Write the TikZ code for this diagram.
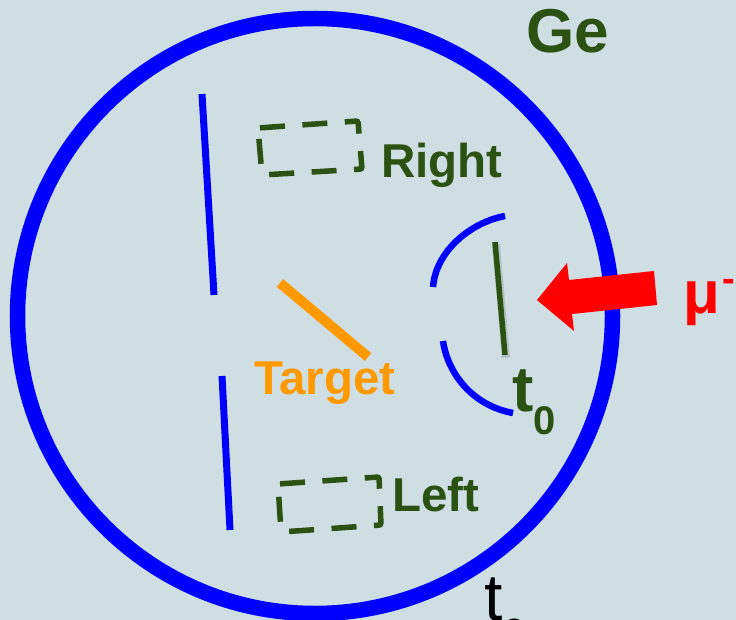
\documentclass[tikz,border=0pt]{standalone}
\usepackage{fontspec}
\setmainfont{Liberation Sans}
\definecolor{bgc}{HTML}{CFDEE2}
\definecolor{dkgreen}{HTML}{2B5212}
\definecolor{trg}{HTML}{FF9900}
\definecolor{ringblue}{HTML}{0000FF}
\definecolor{arrowred}{HTML}{FF0000}
\tikzset{
  blueline/.style={draw=ringblue,line width=7pt},
  thinarc/.style={draw=ringblue,line width=6.5pt},
  dashbox/.style={draw=dkgreen,line width=5.5pt,dash pattern=on 25pt off 17.5pt},
  lbl/.style={anchor=base west,inner sep=0pt,outer sep=0pt,font=\bfseries\fontsize{47.5}{48}\selectfont,text=dkgreen},
}
\begin{document}
\begin{tikzpicture}[x=1pt,y=-1pt]
\useasboundingbox (0,0) rectangle (736,620);
\fill[bgc] (0,0) rectangle (736,620);
\clip (0,0) rectangle (736,620);
% Ge sphere
\draw[ringblue,line width=15.5pt] (315,316) circle[radius=297.5];
% inner blue counters
\draw[blueline] (202,94) -- (214,295);
\draw[blueline] (222,376) -- (230,530);
\draw[thinarc] (505,216) .. controls (472,222) and (436,250) .. (433,287);
\draw[thinarc] (443,341) .. controls (448,375) and (474,406) .. (513,413);
% target
\draw[trg,line width=10pt] (280,283) -- (368,357);
% t0 counter
\draw[black,opacity=.12,line width=8pt] (496,244) -- (506,358);
\draw[dkgreen,line width=5.5pt] (495,242) -- (505,355);
% arrow
\fill[arrowred] (537,300) -- (567,263) -- (569,280) -- (654,271) -- (657,305) -- (572,314) -- (574,331) -- cycle;
% dashed boxes
\draw[dashbox,rounded corners=2pt] (258,128) -- (358,121) -- (362,169) -- (262,175) -- cycle;
\draw[dashbox,rounded corners=2pt] (278,484) -- (379,477) -- (381,525) -- (281,532) -- cycle;
% labels
\node[lbl,font=\bfseries\fontsize{62}{62}\selectfont] (ge) at (526,53) {Ge};
\node[lbl] (right) at (381,178) {Right};
\node[lbl] (left) at (392,511) {Left};
\node[lbl,text=trg] (target) at (254,394) {Target};
\node[lbl,font=\bfseries\fontsize{64}{64}\selectfont] (tzero) at (512,411) {t};
\node[lbl,font=\bfseries\fontsize{40}{40}\selectfont] (zero) at (533,434) {0};
\node[lbl,text=arrowred,font=\bfseries\fontsize{60}{60}\selectfont] (mu) at (683,313) {μ};
\node[lbl,text=arrowred,font=\bfseries\fontsize{38}{38}\selectfont] (minus) at (722,291) {-};
\node[anchor=base west,inner sep=0pt,text=black,font=\fontsize{66}{66}\selectfont] (te) at (484,620) {t};
\node[anchor=base west,inner sep=0pt,text=black,font=\fontsize{40}{40}\selectfont] (tesub) at (503,640) {e};
\end{tikzpicture}
\end{document}
